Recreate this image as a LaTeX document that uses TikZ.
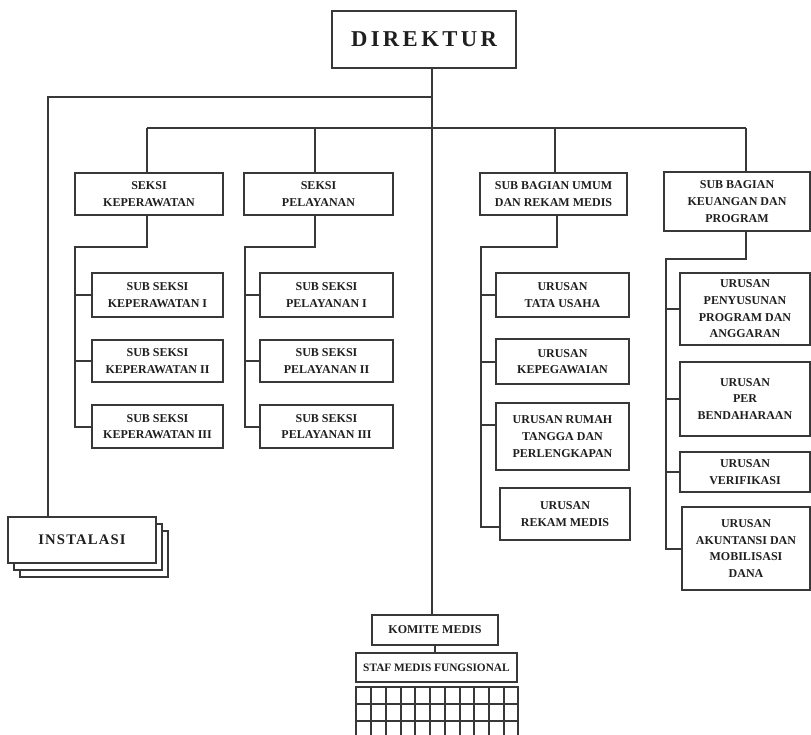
\documentclass[tikz,border=0pt]{standalone}
\usepackage{fontspec}
\setmainfont{Liberation Serif}
\begin{document}
\begin{tikzpicture}[x=0.75pt,y=-0.75pt,
  line width=1.5pt,
  color=black!78,
  box/.style={draw=black!78, line width=1.5pt, fill=white, align=center, inner sep=0pt,
    font=\bfseries\fontsize{9}{12.5}\selectfont, text=black!88},
  wh/.style 2 args={minimum width=#1*0.75pt, minimum height=#2*0.75pt},
  gridline/.style={draw=black!78, line width=1.5pt}]
\useasboundingbox (0,0) rectangle (811,735);

% top
\node[box, wh={184}{57}, font=\bfseries\fontsize{17}{20}\selectfont] (dir) at (424,39.5) {\addfontfeature{LetterSpace=15}DIREKTUR};

% seksi / sub bagian
\node[box, wh={148}{42}] (sk)  at (149,194)   {SEKSI\\KEPERAWATAN};
\node[box, wh={149}{42}] (sp)  at (318.5,194) {SEKSI\\PELAYANAN};
\node[box, wh={147}{42}] (sbu) at (553.5,194) {SUB BAGIAN UMUM\\DAN REKAM MEDIS};
\node[box, wh={146}{59}] (sbk) at (737,201.5) {SUB BAGIAN\\KEUANGAN DAN\\PROGRAM};

% sub seksi keperawatan
\node[box, wh={131}{44}] (ssk1) at (157.5,295)   {SUB SEKSI\\KEPERAWATAN I};
\node[box, wh={131}{42}] (ssk2) at (157.5,361)   {SUB SEKSI\\KEPERAWATAN II};
\node[box, wh={131}{43}] (ssk3) at (157.5,426.5) {SUB SEKSI\\KEPERAWATAN III};
% sub seksi pelayanan
\node[box, wh={133}{44}] (ssp1) at (326.5,295)   {SUB SEKSI\\PELAYANAN I};
\node[box, wh={133}{42}] (ssp2) at (326.5,361)   {SUB SEKSI\\PELAYANAN II};
\node[box, wh={133}{43}] (ssp3) at (326.5,426.5) {SUB SEKSI\\PELAYANAN III};
% urusan umum
\node[box, wh={133}{44}] (u1) at (562.5,295)   {URUSAN\\TATA USAHA};
\node[box, wh={133}{45}] (u2) at (562.5,361.5) {URUSAN\\KEPEGAWAIAN};
\node[box, wh={133}{67}] (u3) at (562.5,436.5) {URUSAN RUMAH\\TANGGA DAN\\PERLENGKAPAN};
\node[box, wh={130}{52}] (u4) at (565,514)     {URUSAN\\REKAM MEDIS};
% urusan keuangan
\node[box, wh={130}{72}] (k1) at (745,309)   {URUSAN\\PENYUSUNAN\\PROGRAM DAN\\ANGGARAN};
\node[box, wh={130}{74}] (k2) at (745,399)   {URUSAN\\PER\\BENDAHARAAN};
\node[box, wh={130}{40}] (k3) at (745,472)   {URUSAN\\VERIFIKASI};
\node[box, wh={128}{83}] (k4) at (746,548.5) {URUSAN\\AKUNTANSI DAN\\MOBILISASI\\DANA};

% instalasi (stacked)
\node[box, wh={148}{46}] (inst3) at (94,554) {};
\node[box, wh={148}{46}] (inst2) at (88,547) {};
\node[box, wh={148}{46}, font=\bfseries\fontsize{11}{13}\selectfont] (inst) at (82,540) {\addfontfeature{LetterSpace=8}INSTALASI};

% komite medis
\node[box, wh={126}{30}] (km) at (435,630) {KOMITE MEDIS};
\node[box, wh={161}{29}, font=\bfseries\fontsize{8.5}{10}\selectfont] (smf) at (436.5,667.5) {STAF MEDIS FUNGSIONAL};

% grid
\foreach \gx in {371,386,401,415,430,445,460,474,489,504} \draw[gridline] (\gx,687) -- (\gx,740);
\foreach \gy in {704,721} \draw[gridline] (356,\gy) -- (518,\gy);
\draw[line width=1.5pt] (356,740) -- (356,687) -- (518,687) -- (518,740);
\draw[line width=1.5pt] (356,738) -- (518,738);

% connectors
\coordinate (spine) at (432,97);
\coordinate (L) at (48,97);
\coordinate (hA) at (147,128);
\coordinate (hB) at (315,128);
\coordinate (hC) at (555,128);
\coordinate (hD) at (746,128);
\coordinate (tA) at (75,247);
\coordinate (tB) at (245,247);
\coordinate (tC) at (481,247);
\coordinate (tD) at (666,259);
\coordinate (y1) at (0,427);
\coordinate (y2) at (0,362);
\coordinate (y3) at (0,425);
\coordinate (y4) at (0,527);
\coordinate (y5) at (0,549);

\draw (dir.south -| spine) -- (km.north -| spine);
\draw (km.south) -- (km.south |- smf.north);
\draw (spine) -- (L) -- (L |- inst.north);
\draw (hA) -- (hD);
\draw (hA) -- (hA |- sk.north);
\draw (hB) -- (hB |- sp.north);
\draw (hC) -- (hC |- sbu.north);
\draw (hD) -- (hD |- sbk.north);

% keperawatan tree
\draw (hA |- sk.south) -- (hA |- tA) -- (tA) -- (tA |- y1) -- (ssk3.west |- y1);
\draw (tA |- ssk1.west) -- (ssk1.west);
\draw (tA |- ssk2.west) -- (ssk2.west);
% pelayanan tree
\draw (hB |- sp.south) -- (hB |- tB) -- (tB) -- (tB |- y1) -- (ssp3.west |- y1);
\draw (tB |- ssp1.west) -- (ssp1.west);
\draw (tB |- ssp2.west) -- (ssp2.west);
% umum tree
\draw (557,0 |- sbu.south) -- (557,0 |- tC) -- (tC) -- (tC |- y4) -- (u4.west |- y4);
\draw (tC |- u1.west) -- (u1.west);
\draw (tC |- y2) -- (u2.west |- y2);
\draw (tC |- y3) -- (u3.west |- y3);
% keuangan tree
\draw (hD |- sbk.south) -- (hD |- tD) -- (tD) -- (tD |- y5) -- (k4.west |- y5);
\draw (tD |- k1.west) -- (k1.west);
\draw (tD |- k2.west) -- (k2.west);
\draw (tD |- k3.west) -- (k3.west);
\end{tikzpicture}
\end{document}
